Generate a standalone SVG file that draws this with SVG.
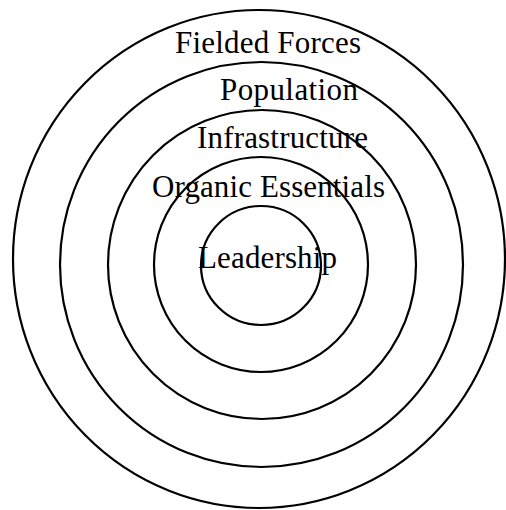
<svg xmlns="http://www.w3.org/2000/svg" width="506" height="510" viewBox="0 0 506 510">
<style>
.ring{fill:none;stroke:#000;stroke-width:2.2}
.lbl{font-family:"Liberation Serif","Times New Roman",serif;font-size:31px;fill:#000}
</style>
<rect width="506" height="510" fill="#fff"/>
<g id="ring-fielded-forces"><ellipse class="ring" cx="259" cy="259" rx="246" ry="249"/></g>
<g id="ring-population"><ellipse class="ring" cx="261.5" cy="264.5" rx="201.5" ry="202.5"/></g>
<g id="ring-infrastructure"><ellipse class="ring" cx="262" cy="264.5" rx="154" ry="154.5"/></g>
<g id="ring-organic"><ellipse class="ring" cx="261" cy="264.5" rx="107" ry="107.5"/></g>
<g id="ring-leadership"><ellipse class="ring" cx="261" cy="265.5" rx="60" ry="59.5"/></g>
<g id="labels">
<text class="lbl" x="175" y="53" textLength="186">Fielded Forces</text>
<text class="lbl" x="220" y="100" textLength="138">Population</text>
<text class="lbl" x="197" y="148" textLength="171">Infrastructure</text>
<text class="lbl" x="152" y="197" textLength="233">Organic Essentials</text>
<text class="lbl" x="198" y="268" textLength="139">Leadership</text>
</g>
</svg>
